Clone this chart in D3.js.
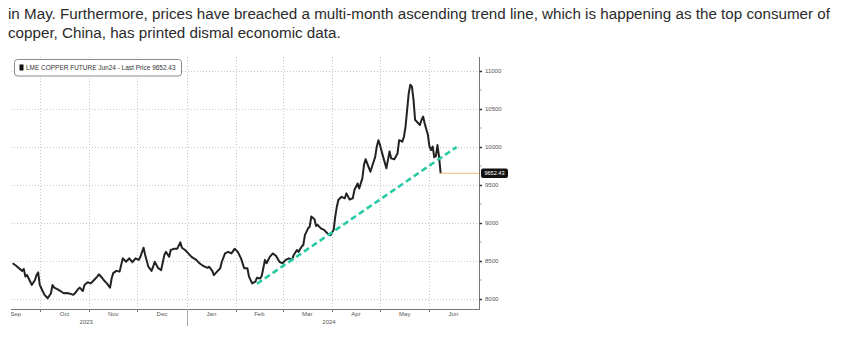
<!DOCTYPE html>
<html>
<head>
<meta charset="utf-8">
<script src="https://cdn.jsdelivr.net/npm/d3@7"></script>
<style>
  html, body { margin: 0; padding: 0; background: #fff; }
  svg { display: block; }
</style>
</head>
<body>
<div id="chart"></div>
<script>
// article text above the chart
const introLines = [
  "in May. Furthermore, prices have breached a multi-month ascending trend line, which is happening as the top consumer of",
  "copper, China, has printed dismal economic data."
];

const seriesName = "LME COPPER FUTURE Jun24 - Last Price 9652.43";
const lastPrice = 9652.43;

// LME copper
const dates = [
  "2023-09-14","2023-09-16","2023-09-18","2023-09-20","2023-09-21","2023-09-22","2023-09-23","2023-09-25","2023-09-26","2023-09-28",
  "2023-09-29","2023-09-30","2023-10-01","2023-10-03","2023-10-04","2023-10-06","2023-10-08","2023-10-09","2023-10-10","2023-10-12",
  "2023-10-14","2023-10-16","2023-10-18","2023-10-20","2023-10-22","2023-10-23","2023-10-25","2023-10-26","2023-10-28","2023-10-29",
  "2023-10-31","2023-11-02","2023-11-04","2023-11-06","2023-11-07","2023-11-09","2023-11-10","2023-11-12","2023-11-14","2023-11-15",
  "2023-11-16","2023-11-18","2023-11-20","2023-11-22","2023-11-24","2023-11-26","2023-11-28","2023-11-30","2023-12-02","2023-12-03",
  "2023-12-05","2023-12-06","2023-12-08","2023-12-10","2023-12-11","2023-12-12","2023-12-14","2023-12-15","2023-12-16","2023-12-18",
  "2023-12-19","2023-12-21","2023-12-22","2023-12-24","2023-12-26","2023-12-28","2023-12-29","2023-12-31","2024-01-02","2024-01-04",
  "2024-01-07","2024-01-09","2024-01-11","2024-01-14","2024-01-15","2024-01-17","2024-01-18","2024-01-20","2024-01-22","2024-01-23",
  "2024-01-25","2024-01-27","2024-01-29","2024-01-31","2024-02-02","2024-02-04","2024-02-06","2024-02-08","2024-02-09","2024-02-11",
  "2024-02-13","2024-02-14","2024-02-16","2024-02-17","2024-02-19","2024-02-20","2024-02-22","2024-02-24","2024-02-26","2024-02-28",
  "2024-03-01","2024-03-03","2024-03-05","2024-03-07","2024-03-08","2024-03-10","2024-03-11","2024-03-13","2024-03-14","2024-03-15",
  "2024-03-17","2024-03-18","2024-03-19","2024-03-21","2024-03-22","2024-03-23","2024-03-25","2024-03-27","2024-03-29","2024-03-31",
  "2024-04-02","2024-04-03","2024-04-04","2024-04-05","2024-04-07","2024-04-09","2024-04-10","2024-04-12","2024-04-14","2024-04-15",
  "2024-04-17","2024-04-18","2024-04-20","2024-04-21","2024-04-22","2024-04-23","2024-04-25","2024-04-26","2024-04-28","2024-04-29",
  "2024-04-30","2024-05-01","2024-05-03","2024-05-05","2024-05-06","2024-05-07","2024-05-08","2024-05-10","2024-05-12","2024-05-13",
  "2024-05-15","2024-05-16","2024-05-17","2024-05-18","2024-05-19","2024-05-20","2024-05-21","2024-05-22","2024-05-23","2024-05-24",
  "2024-05-26","2024-05-27","2024-05-28","2024-05-29","2024-05-31","2024-06-01","2024-06-02","2024-06-03","2024-06-04","2024-06-05",
  "2024-06-06","2024-06-07","2024-06-08"
];
const prices = [
  8470,8440,8405,8370,8395,8295,8315,8230,8185,8250,
  8315,8350,8185,8095,8055,8010,8075,8185,8150,8130,
  8105,8075,8080,8070,8055,8075,8130,8150,8105,8185,
  8220,8205,8250,8295,8325,8280,8250,8205,8150,8270,
  8340,8370,8360,8535,8490,8535,8485,8535,8515,8555,
  8675,8580,8425,8370,8425,8490,8410,8395,8380,8580,
  8620,8555,8645,8660,8660,8745,8675,8645,8600,8555,
  8515,8470,8440,8410,8425,8370,8315,8360,8405,8490,
  8600,8620,8600,8660,8620,8535,8405,8405,8295,8205,
  8230,8280,8270,8305,8515,8470,8555,8600,8565,8490,
  8470,8515,8535,8515,8580,8645,8620,8690,8710,8840,
  8930,8950,9085,9050,8960,8975,8930,8910,8865,8840,
  8910,9085,9215,9305,9345,9325,9390,9310,9325,9435,
  9520,9455,9590,9765,9840,9785,9675,9740,9870,10005,
  10090,10025,9870,9720,9830,9940,9850,9840,9915,10090,
  10070,10135,10265,10485,10705,10820,10795,10620,10355,10335,
  10290,10355,10400,10310,10160,10005,9960,10005,9865,9880,
  10025,9870,9652.43
];

// ascending trend line drawn on the chart
const trendDates = ["2024-02-14", "2024-06-18"];
const trendValues = [8200, 10000];

const yTicks = [8000, 8500, 9000, 9500, 10000, 10500, 11000];
const monthStarts = ["2023-09-01","2023-10-01","2023-11-01","2023-12-01","2024-01-01","2024-02-01","2024-03-01","2024-04-01","2024-05-01","2024-06-01","2024-07-01"];
const monthLabels = ["Sep","Oct","Nov","Dec","Jan","Feb","Mar","Apr","May","Jun"];
const years = ["2023", "2024"];
const yearStarts = ["2023-01-01", "2024-01-01", "2025-01-01"];

const W = 848, H = 351;
const plot = {left: 11, right: 479, top: 57, bottom: 309};
const parse = d3.utcParse("%Y-%m-%d");

const svg = d3.select("#chart").append("svg")
    .attr("width", W)
    .attr("height", H)
    .style("font-family", "'Liberation Sans', Arial, sans-serif");

// intro paragraph
let intro = svg.append("g").attr("fill", "#2b2b2b");
let t1 = intro.append("text").attr("x", 8).attr("y", 19).style("font-size", "15px").text(introLines[0]);
let fs = 15 * 823 / t1.node().getComputedTextLength();
t1.style("font-size", fs + "px");
intro.append("text").attr("x", 8).attr("y", 38).style("font-size", fs + "px").text(introLines[1]);

const x = d3.scaleUtc()
    .domain([parse("2023-09-13"), parse("2024-07-02")])
    .range([plot.left, plot.right]);
const y = d3.scaleLinear()
    .domain([8000, 11000])
    .range([299, 71]);

const data = dates.map((d, i) => ({date: parse(d), value: prices[i]}));

// dotted grid
let grid = svg.append("g")
    .attr("stroke", "#c8c8c8")
    .attr("stroke-width", 1)
    .attr("stroke-dasharray", "1,2");
grid.selectAll("line.h")
    .data(yTicks)
    .join("line")
    .attr("x1", plot.left).attr("x2", plot.right)
    .attr("y1", d => y(d) + 0.5).attr("y2", d => y(d) + 0.5);
grid.selectAll("line.v")
    .data(monthStarts.map(parse).filter(d => x(d) > plot.left && x(d) < plot.right - 2))
    .join("line")
    .attr("x1", d => Math.round(x(d)) + 0.5).attr("x2", d => Math.round(x(d)) + 0.5)
    .attr("y1", plot.top).attr("y2", plot.bottom);

// legend box
let legend = svg.append("g");
legend.append("rect")
    .attr("x", 14.5).attr("y", 59.5)
    .attr("width", 167).attr("height", 16.5)
    .attr("rx", 3)
    .attr("fill", "#fff")
    .attr("stroke", "#8a8a8a");
legend.append("rect")
    .attr("x", 19.5).attr("y", 64.5)
    .attr("width", 4).attr("height", 6)
    .attr("fill", "#111");
let lt = legend.append("text")
    .attr("x", 26).attr("y", 70)
    .attr("fill", "#333")
    .style("font-size", "6.5px")
    .text(seriesName);
lt.style("font-size", (6.5 * 150 / lt.node().getComputedTextLength()) + "px");

// price line
const line = d3.line()
    .x(d => x(d.date))
    .y(d => y(d.value))
    .curve(d3.curveLinear);

svg.append("path")
    .datum(data)
    .attr("fill", "none")
    .attr("stroke", "#222")
    .attr("stroke-width", 2)
    .attr("stroke-linejoin", "round")
    .attr("d", line);

// last price line out to the axis
const last = data[data.length - 1];
svg.append("line")
    .attr("x1", x(last.date)).attr("x2", plot.right)
    .attr("y1", y(lastPrice)).attr("y2", y(lastPrice))
    .attr("stroke", "#f5c78e")
    .attr("stroke-width", 1.4);

// trend line
svg.append("line")
    .attr("x1", x(parse(trendDates[0]))).attr("y1", y(trendValues[0]))
    .attr("x2", x(parse(trendDates[1]))).attr("y2", y(trendValues[1]))
    .attr("stroke", "#26cba4")
    .attr("stroke-width", 2.6)
    .attr("stroke-dasharray", "6,3.5");

// right axis
let yAxis = svg.append("g")
    .attr("transform", "translate(" + (plot.right + 0.5) + ",0)")
    .call(d3.axisRight(y).tickValues(yTicks).tickSize(2.5).tickPadding(3).tickFormat(d3.format("d")));
yAxis.select(".domain").attr("stroke", "#777").attr("d", "M0," + plot.top + "V" + (plot.bottom + 1));
yAxis.selectAll(".tick line").attr("stroke", "#333").attr("stroke-width", 1.5);
yAxis.selectAll(".tick text")
    .attr("fill", "#555")
    .style("font-size", "6px")
    .style("font-family", "'Liberation Sans', Arial, sans-serif");
yAxis.selectAll("line.minor")
    .data(d3.range(8250, 11000, 500))
    .join("line")
    .attr("class", "minor")
    .attr("x1", 0).attr("x2", 2)
    .attr("y1", d => y(d)).attr("y2", d => y(d))
    .attr("stroke", "#999");

// last price tag
let tag = svg.append("g").attr("transform", "translate(481," + y(lastPrice) + ")");
tag.append("rect")
    .attr("x", 0).attr("y", -4.8)
    .attr("width", 27).attr("height", 9.5)
    .attr("rx", 2)
    .attr("fill", "#111");
tag.append("text")
    .attr("x", 13.5).attr("y", 0)
    .attr("dy", "0.35em")
    .attr("text-anchor", "middle")
    .attr("fill", "#fff")
    .style("font-size", "5.6px")
    .text(d3.format(".2f")(lastPrice));

// bottom axis
let xa = svg.append("g");
xa.append("line")
    .attr("x1", plot.left).attr("x2", plot.right + 0.5)
    .attr("y1", plot.bottom + 0.5).attr("y2", plot.bottom + 0.5)
    .attr("stroke", "#777");
xa.selectAll("line.tick")
    .data(monthStarts.map(parse).filter(d => x(d) > plot.left && x(d) < plot.right - 2))
    .join("line")
    .attr("x1", d => Math.round(x(d)) + 0.5).attr("x2", d => Math.round(x(d)) + 0.5)
    .attr("y1", plot.bottom).attr("y2", plot.bottom + 3)
    .attr("stroke", "#777");
xa.selectAll("text.month")
    .data(monthLabels)
    .join("text")
    .attr("x", (d, i) => {
        let a = parse(monthStarts[i]), b = parse(monthStarts[i + 1]);
        return x(new Date((+a + +b) / 2));
    })
    .attr("y", 316)
    .attr("text-anchor", "middle")
    .attr("fill", "#555")
    .style("font-size", "6px")
    .text(d => d);

// year boundary and labels
xa.append("line")
    .attr("x1", Math.round(x(parse(yearStarts[1]))) + 0.5)
    .attr("x2", Math.round(x(parse(yearStarts[1]))) + 0.5)
    .attr("y1", plot.bottom).attr("y2", 326)
    .attr("stroke", "#aaa");
xa.selectAll("text.year")
    .data(years)
    .join("text")
    .attr("x", (d, i) => {
        let a = Math.max(+parse(yearStarts[i]), +parse(monthStarts[0]));
        let b = Math.min(+parse(yearStarts[i + 1]), +parse(monthStarts[monthStarts.length - 1]));
        return x(new Date((a + b) / 2)) - 3;
    })
    .attr("y", 324)
    .attr("text-anchor", "middle")
    .attr("fill", "#555")
    .style("font-size", "6px")
    .text(d => d);
</script>
</body>
</html>
